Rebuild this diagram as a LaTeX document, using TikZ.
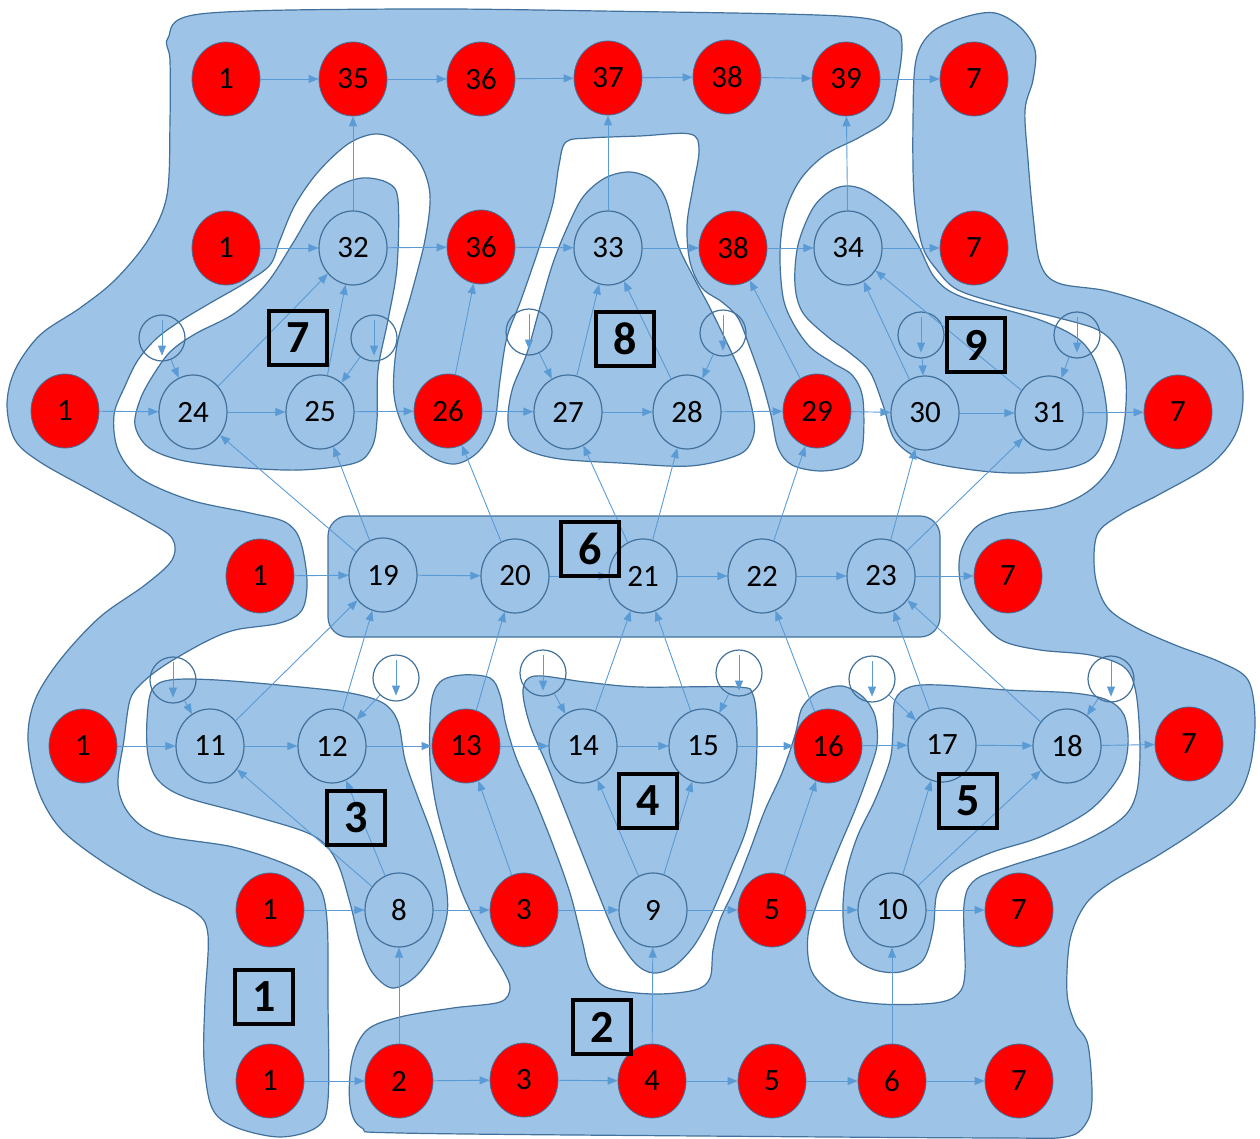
\documentclass[tikz,border=0pt]{standalone}
\usepackage{fontspec}
\setmainfont{Carlito}
\usetikzlibrary{shapes.geometric, arrows.meta}
\definecolor{blobfill}{HTML}{9DC3E6}
\definecolor{blobline}{HTML}{41719C}
\definecolor{edgeblue}{HTML}{5B9BD5}
\tikzset{
  blob/.style    ={fill=blobfill, draw=blobline, line width=1.2pt},
  rnode/.style   ={ellipse, draw=blobline, fill=red, line width=0.8pt,
                   minimum width=68pt, minimum height=74pt, inner sep=0pt,
                   font=\fontsize{31}{31}\selectfont},
  bnode/.style   ={rnode, fill=none, line width=1.2pt},
  loopring/.style={circle, draw=blobline, line width=1.2pt,
                   minimum size=46pt, inner sep=0pt},
  flow/.style    ={-{Triangle[length=10pt,width=8pt]}, draw=edgeblue,
                   line width=0.9pt},
  boxlabel/.style={draw=black, line width=4pt, minimum width=58pt,
                   minimum height=54pt, inner sep=0pt,
                   font=\bfseries\fontsize{46}{46}\selectfont},
}

\begin{document}
\begin{tikzpicture}[x=1pt, y=-1pt]
\useasboundingbox (0,0) rectangle (1260,1139);

% regions 1 and 2 (the two long snakes)
\draw[blob] plot[smooth cycle, tension=0.55] coordinates {
  (168,38) (200,14) (400,9) (600,11) (840,16) (893,28) (902,45) (897,85)
  (888,118) (860,137) (825,155) (800,180) (785,213) (780,253) (783,297)
  (793,323) (810,347) (833,363) (853,376) (863,400) (862,450) (848,466)
  (820,471) (792,465) (778,448) (771,415) (762,382) (750,348) (738,318)
  (722,302) (702,288) (690,262) (687,225) (693,187) (699,150) (690,134)
  (640,136) (590,138) (566,142) (559,165) (553,203) (540,245) (521,300)
  (507,337) (500,380) (494,425) (478,452) (455,464) (430,456) (406,432)
  (394,395) (397,345) (411,295) (425,240) (430,195) (420,163) (398,141)
  (375,134) (348,144) (318,172) (295,205) (280,240) (270,265) (245,283)
  (212,302) (182,320) (157,338) (138,360) (125,386) (114,415) (118,450)
  (140,478) (190,500) (250,513) (285,522) (300,540) (307,580) (302,610)
  (280,623) (235,630) (205,642) (165,665) (142,683) (130,700) (124,740)
  (118,785) (130,815) (160,835) (233,847) (290,866) (318,885) (327,920)
  (328,1000) (328,1100) (317,1127) (280,1137) (235,1127) (212,1108)
  (204,1060) (205,1000) (208,935) (195,912) (150,890) (100,860) (60,828)
  (38,790) (28,740) (35,700) (60,660) (100,617) (145,585) (172,560)
  (172,538) (145,520) (90,490) (40,462) (15,440) (7,405) (15,370) (40,335)
  (80,308) (115,280) (148,240) (167,195) (170,120) (170,60)};
\draw[blob] plot[smooth cycle, tension=0.55] coordinates {
  (350,1105) (352,1060) (367,1030) (400,1017) (453,1008) (500,1002)
  (510,988) (503,970) (485,940) (463,895) (448,850) (436,805) (430,760)
  (431,705) (440,682) (462,675) (490,678) (500,695) (506,725) (517,760)
  (535,800) (553,845) (570,893) (582,940) (590,970) (608,988) (653,994)
  (695,990) (710,978) (713,950) (720,920) (735,888) (750,850) (765,810)
  (782,773) (795,735) (802,708) (818,692) (842,686) (863,697) (875,716)
  (877,745) (868,775) (855,810) (838,850) (820,895) (808,935) (812,972)
  (838,996) (880,1004) (935,1003) (958,994) (965,972) (964,905) (975,880)
  (1010,866) (1075,845) (1120,820) (1136,795) (1140,750) (1136,693)
  (1124,667) (1090,655) (1040,650) (1003,641) (980,620) (962,590)
  (960,555) (975,528) (1005,514) (1055,507) (1090,490) (1113,463)
  (1124,425) (1126,380) (1118,350) (1098,330) (1055,317) (1005,305)
  (958,290) (937,270) (922,245) (914,195) (913,120) (916,60) (932,32)
  (965,17) (995,13) (1020,27) (1035,50) (1033,80) (1025,110) (1028,160)
  (1033,215) (1040,263) (1058,283) (1107,291) (1160,308) (1210,333)
  (1237,362) (1243,400) (1235,435) (1210,465) (1160,494) (1120,515)
  (1097,535) (1095,575) (1107,607) (1135,627) (1175,645) (1220,662)
  (1248,680) (1255,720) (1250,767) (1235,800) (1200,828) (1157,856)
  (1110,883) (1085,905) (1070,940) (1067,993) (1075,1023) (1088,1045)
  (1092,1100) (1085,1125) (1065,1137) (1000,1138) (700,1136) (400,1133)
  (362,1128)};

% regions 3 to 9
\draw[blob] plot[smooth cycle, tension=0.55] coordinates {
  (147,720) (152,690) (170,680) (217,680) (300,687) (350,693) (383,703)
  (398,722) (405,760) (417,795) (432,835) (445,880) (447,915) (435,950)
  (415,977) (392,988) (372,972) (360,943) (350,903) (336,860) (312,835)
  (250,815) (185,797) (158,780) (148,755)};
\draw[blob] plot[smooth cycle, tension=0.55] coordinates {
  (523,690) (535,676) (585,682) (640,687) (737,687) (753,695) (757,730)
  (755,780) (747,827) (730,870) (710,917) (693,947) (673,967) (653,973)
  (635,963) (615,933) (598,893) (582,853) (563,805) (547,765) (530,725)};
\draw[blob] plot[smooth cycle, tension=0.55] coordinates {
  (895,700) (910,687) (940,685) (1007,690) (1073,693) (1107,700)
  (1124,715) (1128,745) (1120,775) (1090,810) (1040,837) (990,853)
  (952,872) (937,893) (933,930) (923,960) (900,972) (875,970) (855,958)
  (845,935) (843,905) (847,870) (858,835) (875,800) (890,760) (893,730)};
\draw[blob, rounded corners=20pt] (328,516) rectangle (940,637);
\draw[blob] plot[smooth cycle, tension=0.55] coordinates {
  (398,200) (397,267) (388,320) (378,370) (377,420) (372,447) (355,463)
  (300,470) (233,467) (180,460) (148,447) (135,425) (140,400) (152,377)
  (170,352) (195,334) (235,313) (267,283) (293,243) (313,210) (335,188)
  (362,178) (388,183)};
\draw[blob] plot[smooth cycle, tension=0.55] coordinates {
  (508,415) (513,387) (527,353) (540,307) (553,263) (567,228) (583,197)
  (605,178) (630,172) (652,180) (666,200) (678,245) (694,278) (710,308)
  (728,345) (745,383) (754,420) (752,440) (738,455) (690,466) (620,463)
  (560,459) (527,450) (511,435)};
\draw[blob] plot[smooth cycle, tension=0.55] coordinates {
  (813,208) (832,190) (850,186) (870,193) (898,215) (918,245) (935,278)
  (962,297) (1040,320) (1082,342) (1100,375) (1107,420) (1097,453)
  (1073,467) (1023,473) (973,470) (923,460) (895,440) (883,405) (870,372)
  (850,353) (828,337) (803,313) (795,285) (798,245)};

% red nodes
\foreach \nm/\x/\y/\t in {s1a/226/79/1, r35/353/79/35, r36/481/79/36,
    r37/608/78/37, r38/727/77/38, r39/846/79/39, t7a/974/79/7,
    s1b/226/248/1, r36b/481/247/36, r38b/733/248/38, t7b/974/248/7,
    s1c/65/411/1, r26/448/411/26, r29/817/411/29, t7c/1178/412/7,
    s1d/260/576/1, t7d/1008/576/7,
    s1e/83/746/1, r13/466/746/13, r16/828/746/16, t7e/1189/744/7,
    s1f/270/910/1, r3b/524/910/3, r5b/772/910/5, t7f/1019/910/7,
    s1g/270/1081/1, r2/399/1081/2, r3/524/1080/3, r4/652/1081/4,
    r5/772/1081/5, r6/892/1081/6, t7g/1019/1081/7}
  \node[rnode] (\nm) at (\x,\y) {\t};

% blue nodes
\foreach \nm/\x/\y/\t in {n32/353/248/32, n33/608/248/33, n34/848/248/34,
    n24/193/412/24, n25/320/412/25, n27/568/412/27, n28/687/412/28,
    n30/925/413/30, n31/1049/413/31, n19/383/575/19, n20/515/576/20,
    n21/643/576/21, n22/762/576/22, n23/881/576/23, n11/210/746/11,
    n12/332/746/12, n14/583/746/14, n15/703/746/15, n17/942/745/17,
    n18/1067/746/18, n8/399/910/8, n9/653/910/9, n10/892/910/10}
  \node[bnode] (\nm) at (\x,\y) {\t};

% loops above nodes
\foreach \nm/\x/\y/\tg in {l24/162/338/n24, l25/374/338/n25,
    l27/529/332/n27, l28/723/333/n28, l30/921/335/n30, l31/1077/335/n31,
    l11/173/680/n11, l12/396/678/n12, l14/543/673/n14, l15/739/673/n15,
    l17/872/679/n17, l18/1111/679/n18} {
  \node[loopring] (\nm) at (\x,\y) {};
  \draw[flow] ([yshift=-6pt]\nm.north) -- ([yshift=6pt]\nm.south);
  \draw[flow] (\nm) -- (\tg);
}

% edges
\foreach \a/\b in {s1a/r35, r35/r36, r36/r37, r37/r38, r38/r39, r39/t7a,
    s1b/n32, n32/r36b, r36b/n33, n33/r38b, r38b/n34, n34/t7b,
    s1c/n24, n24/n25, n25/r26, r26/n27, n27/n28, n28/r29, r29/n30,
    n30/n31, n31/t7c,
    s1d/n19, n19/n20, n20/n21, n21/n22, n22/n23, n23/t7d,
    s1e/n11, n11/n12, n12/r13, r13/n14, n14/n15, n15/r16, r16/n17,
    n17/n18, n18/t7e,
    s1f/n8, n8/r3b, r3b/n9, n9/r5b, r5b/n10, n10/t7f,
    s1g/r2, r2/r3, r3/r4, r4/r5, r5/r6, r6/t7g}
  \draw[flow] (\a) -- (\b);
\foreach \a/\b in {r2/n8, r4/n9, r6/n10, n8/n11, n8/n12, r3b/r13,
    n9/n14, n9/n15, r5b/r16, n10/n17, n10/n18, n11/n19, n12/n19,
    r13/n20, n14/n21, n15/n21, r16/n22, n17/n23, n18/n23, n19/n24,
    n19/n25, n20/r26, n21/n27, n21/n28, n22/r29, n23/n30, n23/n31,
    n24/n32, n25/n32, r26/r36b, n27/n33, n28/n33, r29/r38b, n30/n34,
    n31/n34, n32/r35, n33/r37, n34/r39}
  \draw[flow] (\a) -- (\b);

% region numbers
\foreach \nm/\x/\y/\t in {b1/264/997/1, b2/602/1027/2, b3/356/818/3,
    b4/648/801/4, b5/968/801/5, b6/590/549/6, b7/298/338/7,
    b8/625/339/8, b9/976/345/9}
  \node[boxlabel] (\nm) at (\x,\y) {\t};

\end{tikzpicture}
\end{document}
